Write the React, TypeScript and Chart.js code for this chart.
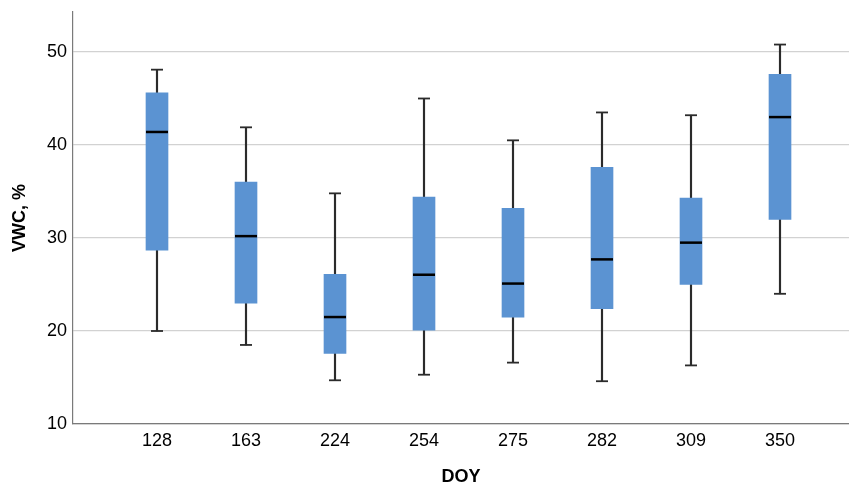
import React, { useEffect, useRef } from "react";
import { Chart, registerables } from "chart.js";

Chart.register(...registerables);

const categories = ["128", "163", "224", "254", "275", "282", "309", "350"];
const whiskerLow = [20.0, 18.5, 14.7, 15.3, 16.6, 14.6, 16.3, 24.0];
const q1 = [28.7, 23.0, 17.6, 20.1, 21.5, 22.4, 25.0, 32.0];
const median = [41.4, 30.2, 21.5, 26.05, 25.1, 27.7, 29.5, 43.0];
const q3 = [45.6, 36.0, 26.1, 34.4, 33.2, 37.6, 34.3, 47.6];
const whiskerHigh = [48.1, 41.9, 34.8, 45.0, 40.5, 43.5, 43.2, 50.8];
const yTicks = [10, 20, 30, 40, 50];

export default function App() {
  const ref = useRef<HTMLCanvasElement | null>(null);

  useEffect(() => {
    document.body.style.margin = "0";
    const canvas = ref.current;
    if (!canvas) return;
    const font = "'Liberation Sans', Arial, sans-serif";
    const idx = categories.map((_, i) => i);

    const chart = new Chart(canvas, {
      type: "bar",
      data: {
        datasets: [
          {
            type: "bar",
            data: idx.map((i) => ({ x: i, y: [whiskerLow[i], whiskerHigh[i]] })) as any,
            backgroundColor: "#2b2b2b",
            barThickness: 1.5,
            grouped: false,
            order: 3,
          } as any,
          {
            type: "bar",
            data: idx.map((i) => ({ x: i, y: [q1[i], q3[i]] })) as any,
            backgroundColor: "#5b93d2",
            barThickness: 22,
            grouped: false,
            order: 2,
          } as any,
          {
            type: "line",
            data: idx.flatMap((i) => [
              { x: i, y: whiskerLow[i] },
              { x: i, y: whiskerHigh[i] },
            ]),
            showLine: false,
            pointStyle: "line",
            pointRadius: 6,
            pointHoverRadius: 6,
            pointBorderWidth: 1.8,
            pointBorderColor: "#2b2b2b",
            order: 1,
          } as any,
          {
            type: "line",
            data: idx.map((i) => ({ x: i, y: median[i] })),
            showLine: false,
            pointStyle: "line",
            pointRadius: 11,
            pointHoverRadius: 11,
            pointBorderWidth: 2.5,
            pointBorderColor: "#000000",
            order: 0,
          } as any,
        ],
      },
      options: {
        animation: false,
        responsive: false,
        maintainAspectRatio: false,
        layout: { autoPadding: false, padding: { top: 12, right: 0, left: 0, bottom: 0 } },
        plugins: {
          legend: { display: false },
          tooltip: { enabled: false },
        },
        scales: {
          x: {
            type: "linear",
            offset: false,
            min: -84 / 89,
            max: 7 + 69 / 89,
            grid: { display: false, drawTicks: false, offset: false },
            border: { display: true, color: "#7a7a7a", width: 1.2 },
            afterBuildTicks: (scale: any) => {
              scale.ticks = idx.map((i) => ({ value: i }));
            },
            afterFit: (scale: any) => {
              scale.height = 62;
              scale.paddingLeft = 0;
              scale.paddingRight = 0;
            },
            ticks: {
              autoSkip: false,
              maxRotation: 0,
              padding: 6,
              color: "#000",
              font: { family: font, size: 18 },
              callback: (v: any) => categories[v] ?? "",
            },
            title: {
              display: true,
              text: "DOY",
              color: "#000",
              font: { family: font, size: 18, weight: "bold", lineHeight: 1 },
              padding: { top: 0, bottom: 0 },
            },
          },
          y: {
            type: "linear",
            min: 10,
            max: 54.3,
            grid: { color: "#d2d2d2", lineWidth: 1.2, drawTicks: false },
            border: { display: true, color: "#7a7a7a", width: 1.2 },
            afterBuildTicks: (scale: any) => {
              scale.ticks = yTicks.map((v) => ({ value: v }));
            },
            afterFit: (scale: any) => {
              scale.width = 73;
              scale.paddingTop = 0;
              scale.paddingBottom = 0;
            },
            ticks: {
              padding: 6,
              color: "#000",
              font: { family: font, size: 18 },
            },
            title: {
              display: true,
              text: "VWC, %",
              color: "#000",
              font: { family: font, size: 18, weight: "bold" },
              padding: { top: 9, bottom: 0 },
            },
          },
        },
      } as any,
    });
    return () => chart.destroy();
  }, []);

  return (
    <div style={{ width: 849, height: 486 }}>
      <canvas ref={ref} width={849} height={486} style={{ display: "block" }} />
    </div>
  );
}
